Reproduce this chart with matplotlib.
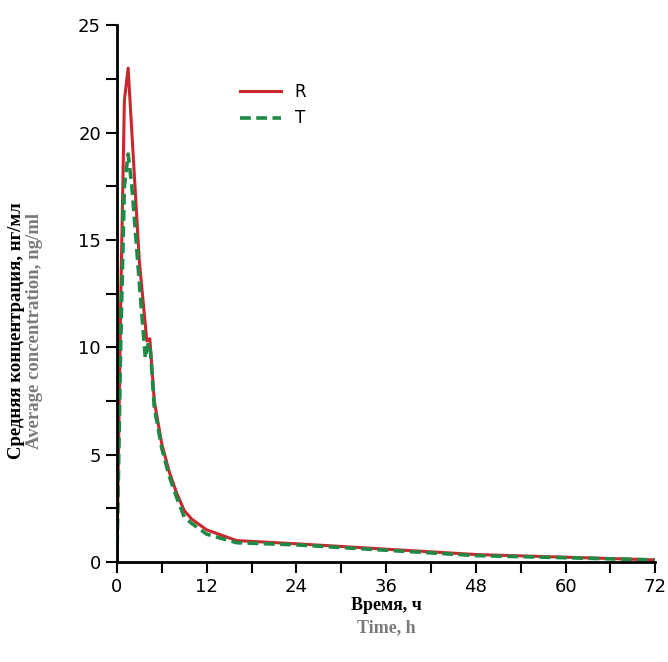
import matplotlib.pyplot as plt
from matplotlib.ticker import MultipleLocator

time_r = [0, 0.5, 1.0, 1.5, 2.0, 3.0, 4.0, 4.4, 5.0, 6.0, 7.0, 8.0, 9.0, 10.0, 12, 16, 24, 36, 48, 72]
conc_r = [0, 12.0, 21.5, 23.0, 20.0, 14.0, 10.3, 10.4, 7.5, 5.5, 4.2, 3.2, 2.4, 2.0, 1.5, 1.0, 0.85, 0.6, 0.35, 0.1]
time_t = [0, 0.5, 1.0, 1.5, 2.0, 3.0, 3.8, 4.2, 4.5, 5.0, 6.0, 7.0, 8.0, 9.0, 10.0, 12, 16, 24, 36, 48, 72]
conc_t = [0, 10.0, 17.5, 19.0, 17.5, 13.0, 9.5, 10.2, 9.8, 7.2, 5.3, 4.0, 3.0, 2.1, 1.8, 1.3, 0.9, 0.8, 0.55, 0.3, 0.1]

fig = plt.figure(figsize=(6.68, 6.62), dpi=100)
ax = fig.add_axes([0.175, 0.151, 0.806, 0.811])
ax.plot(time_r, conc_r, color="#c8282d", linewidth=2.2, label="R")
ax.plot(time_t, conc_t, color="#1e8a46", linewidth=2.6, linestyle=(0, (3, 1.5)), label="T")

ax.set_xlim(0, 72)
ax.set_ylim(0, 25)
ax.xaxis.set_major_locator(MultipleLocator(12))
ax.xaxis.set_minor_locator(MultipleLocator(6))
ax.yaxis.set_major_locator(MultipleLocator(5))
ax.yaxis.set_minor_locator(MultipleLocator(2.5))
for s in ("top", "right"):
    ax.spines[s].set_visible(False)
for s in ("left", "bottom"):
    ax.spines[s].set_linewidth(2)
ax.tick_params(which="both", width=1.5, labelsize=13, length=8)

ax.legend(loc="upper left", bbox_to_anchor=(0.2, 0.92), frameon=False,
          fontsize=12, handlelength=2.5)

serif = "Liberation Serif"
fig.text(0.025, 0.50, "Средняя концентрация, нг/мл", rotation=90, ha="center",
         va="center", family=serif, fontweight="bold", fontsize=13.5, color="black")
fig.text(0.052, 0.50, "Average concentration, ng/ml", rotation=90, ha="center",
         va="center", family=serif, fontweight="bold", fontsize=13.5, color="#7a7a7a")
fig.text(0.578, 0.085, "Время, ч", ha="center", va="center", family=serif,
         fontweight="bold", fontsize=13, color="black")
fig.text(0.578, 0.052, "Time, h", ha="center", va="center", family=serif,
         fontweight="bold", fontsize=13, color="#7a7a7a")

fig.savefig("out.png", dpi=100)
